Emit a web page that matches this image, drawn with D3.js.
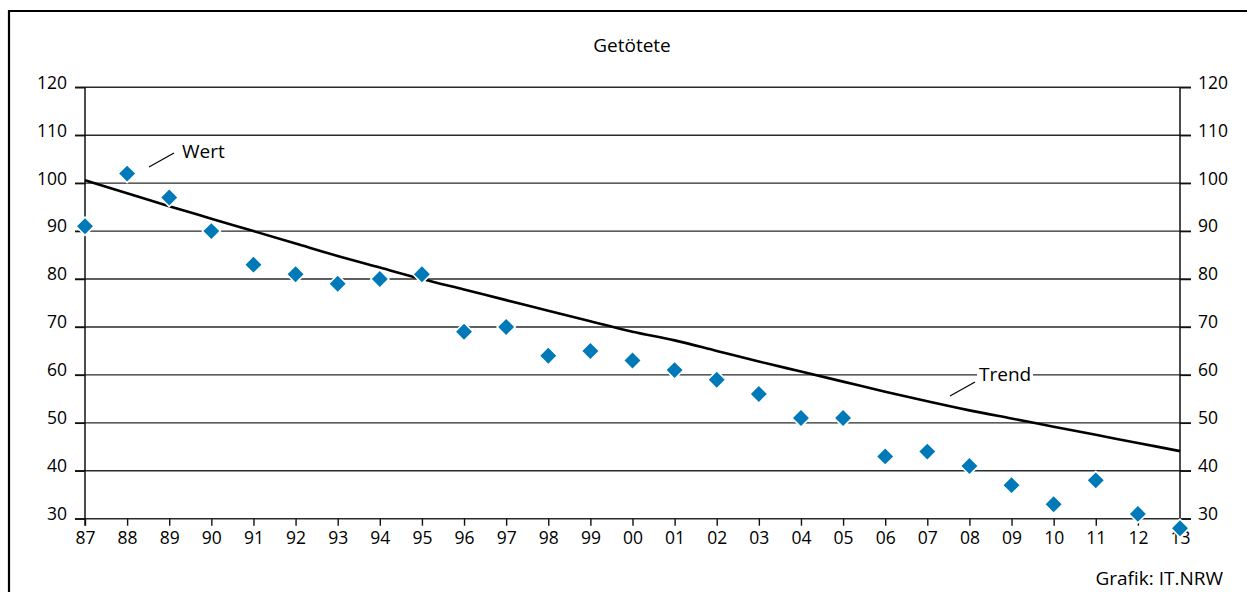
<!DOCTYPE html>
<html>
<head>
<meta charset="utf-8">
<script src="https://cdn.jsdelivr.net/npm/d3@7"></script>
<style>
  html, body { margin: 0; padding: 0; background: #fff; }
  svg text { font-family: "Open Sans", "Noto Sans", sans-serif; fill: #000; }
</style>
</head>
<body>
<div id="content"></div>
<script>
const svgWidth = 1247, svgHeight = 592;

// Jahre (x-Achse)
const years = ["87","88","89","90","91","92","93","94","95","96","97","98","99",
               "00","01","02","03","04","05","06","07","08","09","10","11","12","13"];
// Getötete (Wert)
const values = [91,102,97,90,83,81,79,80,81,69,70,64,65,63,61,59,56,51,51,43,44,41,37,33,38,31,28];
// Trend
const trend = [100.6,97.9,95.2,92.6,90.0,87.4,84.8,82.4,80.0,77.8,75.6,73.4,71.2,69.0,
               67.2,65.0,62.8,60.7,58.6,56.5,54.5,52.6,50.9,49.2,47.5,45.8,44.1];
const yTicks = [30,40,50,60,70,80,90,100,110,120];

const plotLeft = 85, plotRight = 1180, plotTop = 87.3, plotBottom = 518.7;

const svg = d3.select("#content").append("svg")
  .attr("width", svgWidth)
  .attr("height", svgHeight);

// Rahmen
svg.append("path")
  .attr("d", `M9,${svgHeight} V11 H${svgWidth}`)
  .attr("fill", "none")
  .attr("stroke", "#000")
  .attr("stroke-width", 2.2);

const x = d3.scalePoint().domain(years).range([plotLeft, plotRight]);
const y = d3.scaleLinear().domain([30, 120]).range([plotBottom, plotTop]);

// Gitternetz
svg.append("g").selectAll("line")
  .data(yTicks).enter().append("line")
  .attr("x1", plotLeft - 10).attr("x2", plotRight + 11)
  .attr("y1", d => y(d)).attr("y2", d => y(d))
  .attr("stroke", "#2a2a2a")
  .attr("stroke-width", 1.4);

// Achsen
const axisL = svg.append("g").attr("transform", `translate(${plotLeft},0)`)
  .call(d3.axisLeft(y).tickValues(yTicks).tickSize(10).tickPadding(8));
const axisR = svg.append("g").attr("transform", `translate(${plotRight},0)`)
  .call(d3.axisRight(y).tickValues(yTicks).tickSize(11).tickPadding(7));
const axisB = svg.append("g").attr("transform", `translate(0,${plotBottom})`)
  .call(d3.axisBottom(x).tickSize(7).tickPadding(3));

[axisL, axisR, axisB].forEach(g => {
  g.select(".domain").remove();
  g.selectAll("line").attr("stroke", "#111").attr("stroke-width", 1.4);
  g.selectAll("text").attr("font-size", 17.5)
    .attr("font-family", "'Open Sans', 'Noto Sans', sans-serif").attr("fill", "#000");
});
axisL.selectAll("text").attr("dy", "0.05em");
axisR.selectAll("text").attr("dy", "0.05em");
axisB.selectAll("text").attr("dy", "0.9em");

// Achsenlinien
svg.append("line")
  .attr("x1", plotLeft).attr("x2", plotLeft)
  .attr("y1", y(120)).attr("y2", plotBottom + 7)
  .attr("stroke", "#111").attr("stroke-width", 1.5);
svg.append("line")
  .attr("x1", plotRight).attr("x2", plotRight)
  .attr("y1", y(120)).attr("y2", plotBottom)
  .attr("stroke", "#111").attr("stroke-width", 1.5);

// Trendlinie
svg.append("path")
  .datum(trend)
  .attr("d", d3.line().x((d, i) => x(years[i])).y(d => y(d)).curve(d3.curveMonotoneX))
  .attr("fill", "none")
  .attr("stroke", "#000")
  .attr("stroke-width", 2.6);

// Werte
svg.append("g").selectAll("path")
  .data(values).enter().append("path")
  .attr("d", d3.symbol().type(d3.symbolSquare).size(165))
  .attr("transform", (d, i) => `translate(${x(years[i])},${y(d)}) rotate(45)`)
  .attr("fill", "#0079b9")
  .attr("stroke", "#fff")
  .attr("stroke-width", 1.6);

// Beschriftungen
svg.append("text")
  .attr("x", 632).attr("y", 52)
  .attr("text-anchor", "middle")
  .attr("font-size", 19)
  .text("Getötete");

svg.append("line")
  .attr("x1", 149).attr("y1", 167).attr("x2", 174).attr("y2", 153)
  .attr("stroke", "#000").attr("stroke-width", 1.2);
svg.append("text")
  .attr("x", 182).attr("y", 158)
  .attr("font-size", 19)
  .text("Wert");

svg.append("rect")
  .attr("x", 977).attr("y", 365).attr("width", 56).attr("height", 19)
  .attr("fill", "#fff");
svg.append("line")
  .attr("x1", 950).attr("y1", 396).attr("x2", 975).attr("y2", 382)
  .attr("stroke", "#000").attr("stroke-width", 1.2);
svg.append("text")
  .attr("x", 979).attr("y", 381)
  .attr("font-size", 19)
  .text("Trend");

svg.append("text")
  .attr("x", 1223).attr("y", 585)
  .attr("text-anchor", "end")
  .attr("font-size", 19)
  .text("Grafik: IT.NRW");
</script>
</body>
</html>
